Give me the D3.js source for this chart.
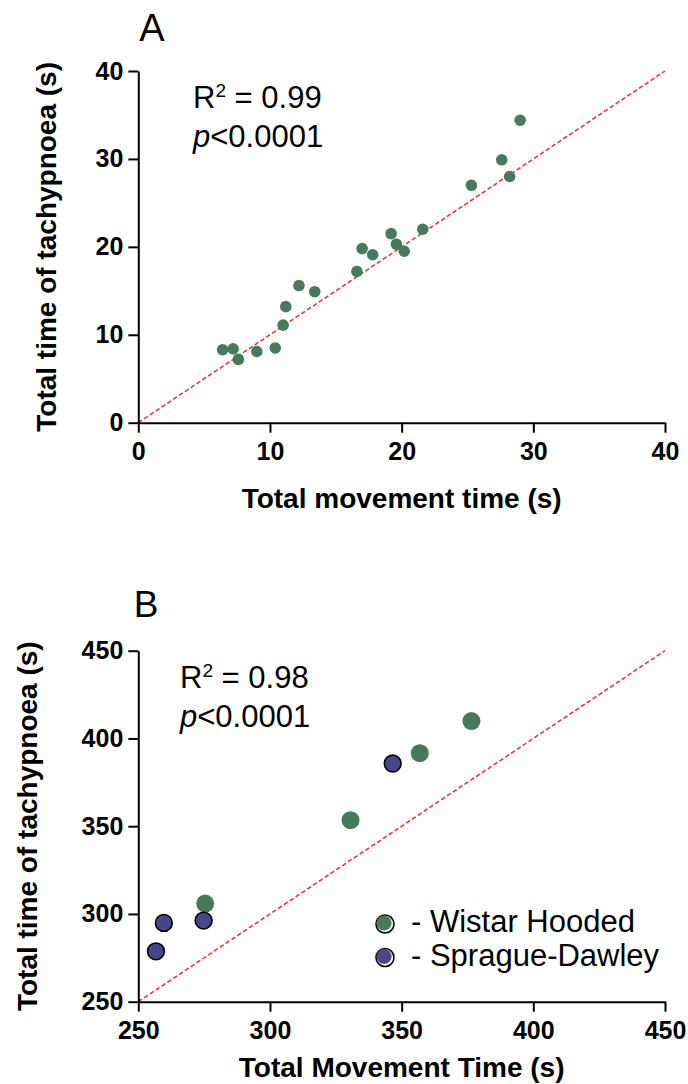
<!DOCTYPE html>
<html>
<head>
<meta charset="utf-8">
<script src="https://cdn.jsdelivr.net/npm/d3@7"></script>
<style>
  html, body { margin: 0; padding: 0; background: #fff; }
  svg { display: block; font-family: "Liberation Sans", Arial, sans-serif; }
</style>
</head>
<body>
<svg id="chart" width="688" height="1084"></svg>
<script>
// Panel A: all animals
const movementA = [6.4, 7.2, 7.6, 9.0, 10.4, 11.0, 11.2, 12.2, 13.4, 16.6, 17.0, 17.8, 19.2, 19.6, 20.2, 21.6, 25.3, 27.6, 28.2, 29.0];
const tachypnoeaA = [8.3, 8.4, 7.2, 8.1, 8.5, 11.1, 13.2, 15.6, 14.9, 17.2, 19.8, 19.1, 21.5, 20.3, 19.5, 22.0, 27.0, 29.9, 28.0, 34.4];
const ticksA = [0, 10, 20, 30, 40];

// Panel B: strain comparison
const wistarMovement = [376.5, 356.9, 330.6, 275.4];
const wistarTachypnoea = [409.9, 391.6, 353.4, 305.9];
const spragueMovement = [346.6, 259.7, 274.8, 256.7];
const spragueTachypnoea = [385.7, 294.9, 296.2, 278.7];
const ticksB = [250, 300, 350, 400, 450];

const legendLabels = ["- Wistar Hooded", "- Sprague-Dawley"];
const green = "#477a5d";
const blue = "#48468b";
const red = "#ef2b30";

const svg = d3.select("#chart");
svg.append("rect").attr("width", 688).attr("height", 1084).attr("fill", "#fff");

const left = 138.3, right = 665;

function drawAxes(g, x, y, ticksX, ticksY) {
  const ax = g.append("g")
    .attr("transform", `translate(0,${y.range()[0]})`)
    .call(d3.axisBottom(x).tickValues(ticksX).tickSize(10).tickSizeOuter(0).tickPadding(9.5));
  const ay = g.append("g")
    .attr("transform", `translate(${x.range()[0]},0)`)
    .call(d3.axisLeft(y).tickValues(ticksY).tickSize(10).tickSizeOuter(0).tickPadding(5));
  [ax, ay].forEach(a => {
    a.selectAll("path.domain").attr("stroke", "#000").attr("stroke-width", 2);
    a.selectAll(".tick line").attr("stroke", "#000").attr("stroke-width", 2);
    a.selectAll(".tick text")
      .attr("fill", "#000")
      .style("font-size", "25px")
      .style("font-weight", "bold")
      .style("font-family", "'Liberation Sans', Arial, sans-serif");
  });
}

function identityLine(g, x, y, lo, hi) {
  g.append("line")
    .attr("x1", x(lo)).attr("y1", y(lo))
    .attr("x2", x(hi)).attr("y2", y(hi))
    .attr("stroke", red)
    .attr("stroke-width", 1.5)
    .attr("stroke-dasharray", "4.5,2.5");
}

function statsText(g, xPos, yPos, r2) {
  const t1 = g.append("text").attr("x", xPos).attr("y", yPos)
    .style("font-size", "31px").attr("fill", "#000");
  t1.append("tspan").text("R");
  t1.append("tspan").attr("dy", -11).style("font-size", "19px").text("2");
  t1.append("tspan").attr("dy", 11).text(" = " + r2);
  const t2 = g.append("text").attr("x", xPos).attr("y", yPos + 39)
    .style("font-size", "31px").attr("fill", "#000");
  t2.append("tspan").style("font-style", "italic").text("p");
  t2.append("tspan").text("<0.0001");
}

// ---------- Panel A ----------
const gA = svg.append("g");
const xA = d3.scaleLinear().domain([0, 40]).range([left, right]);
const yA = d3.scaleLinear().domain([0, 40]).range([422.7, 71]);

identityLine(gA, xA, yA, 0, 40);
drawAxes(gA, xA, yA, ticksA, ticksA);

gA.selectAll("circle.pt")
  .data(movementA.map((m, i) => [m, tachypnoeaA[i]]))
  .join("circle")
  .attr("class", "pt")
  .attr("cx", d => xA(d[0]))
  .attr("cy", d => yA(d[1]))
  .attr("r", 5.8)
  .attr("fill", green);

statsText(gA, 193, 108, "0.99");

gA.append("text").attr("x", 152).attr("y", 41).attr("text-anchor", "middle")
  .style("font-size", "38px").text("A");

gA.append("text").attr("x", (left + right) / 2).attr("y", 508)
  .attr("text-anchor", "middle")
  .style("font-size", "28px").style("font-weight", "bold")
  .text("Total movement time (s)");

gA.append("text")
  .attr("transform", `translate(55.5,${(422.7 + 71) / 2}) rotate(-90)`)
  .attr("text-anchor", "middle")
  .style("font-size", "28px").style("font-weight", "bold")
  .text("Total time of tachypnoea (s)");

// ---------- Panel B ----------
const gB = svg.append("g");
const xB = d3.scaleLinear().domain([250, 450]).range([left, right]);
const yB = d3.scaleLinear().domain([250, 450]).range([1001.7, 650.7]);

identityLine(gB, xB, yB, 250, 450);
drawAxes(gB, xB, yB, ticksB, ticksB);

gB.selectAll("circle.wh")
  .data(wistarMovement.map((m, i) => [m, wistarTachypnoea[i]]))
  .join("circle")
  .attr("class", "wh")
  .attr("cx", d => xB(d[0]))
  .attr("cy", d => yB(d[1]))
  .attr("r", 9)
  .attr("fill", green);

gB.selectAll("circle.sd")
  .data(spragueMovement.map((m, i) => [m, spragueTachypnoea[i]]))
  .join("circle")
  .attr("class", "sd")
  .attr("cx", d => xB(d[0]))
  .attr("cy", d => yB(d[1]))
  .attr("r", 8.4)
  .attr("fill", blue)
  .attr("stroke", "#000")
  .attr("stroke-width", 1.6);

statsText(gB, 180, 688, "0.98");

gB.append("text").attr("x", 146).attr("y", 617).attr("text-anchor", "middle")
  .style("font-size", "37px").text("B");

gB.append("text").attr("x", (left + right) / 2).attr("y", 1077)
  .attr("text-anchor", "middle")
  .style("font-size", "28px").style("font-weight", "bold")
  .text("Total Movement Time (s)");

gB.append("text")
  .attr("transform", `translate(37,${(1001.7 + 650.7) / 2}) rotate(-90)`)
  .attr("text-anchor", "middle")
  .style("font-size", "28px").style("font-weight", "bold")
  .text("Total time of tachypnoea (s)");

// Legend
const legend = gB.append("g");
[green, blue].forEach((c, i) => {
  const cy = 924 + i * 33.5;
  legend.append("circle").attr("cx", 385).attr("cy", cy).attr("r", 9)
    .attr("fill", "#fff").attr("stroke", "#000").attr("stroke-width", 1.6);
  legend.append("circle").attr("cx", 384).attr("cy", cy - 1).attr("r", 7.6)
    .attr("fill", c);
  legend.append("text").attr("x", 411).attr("y", cy + 8)
    .style("font-size", "31px").attr("fill", "#000")
    .text(legendLabels[i]);
});
</script>
</body>
</html>
